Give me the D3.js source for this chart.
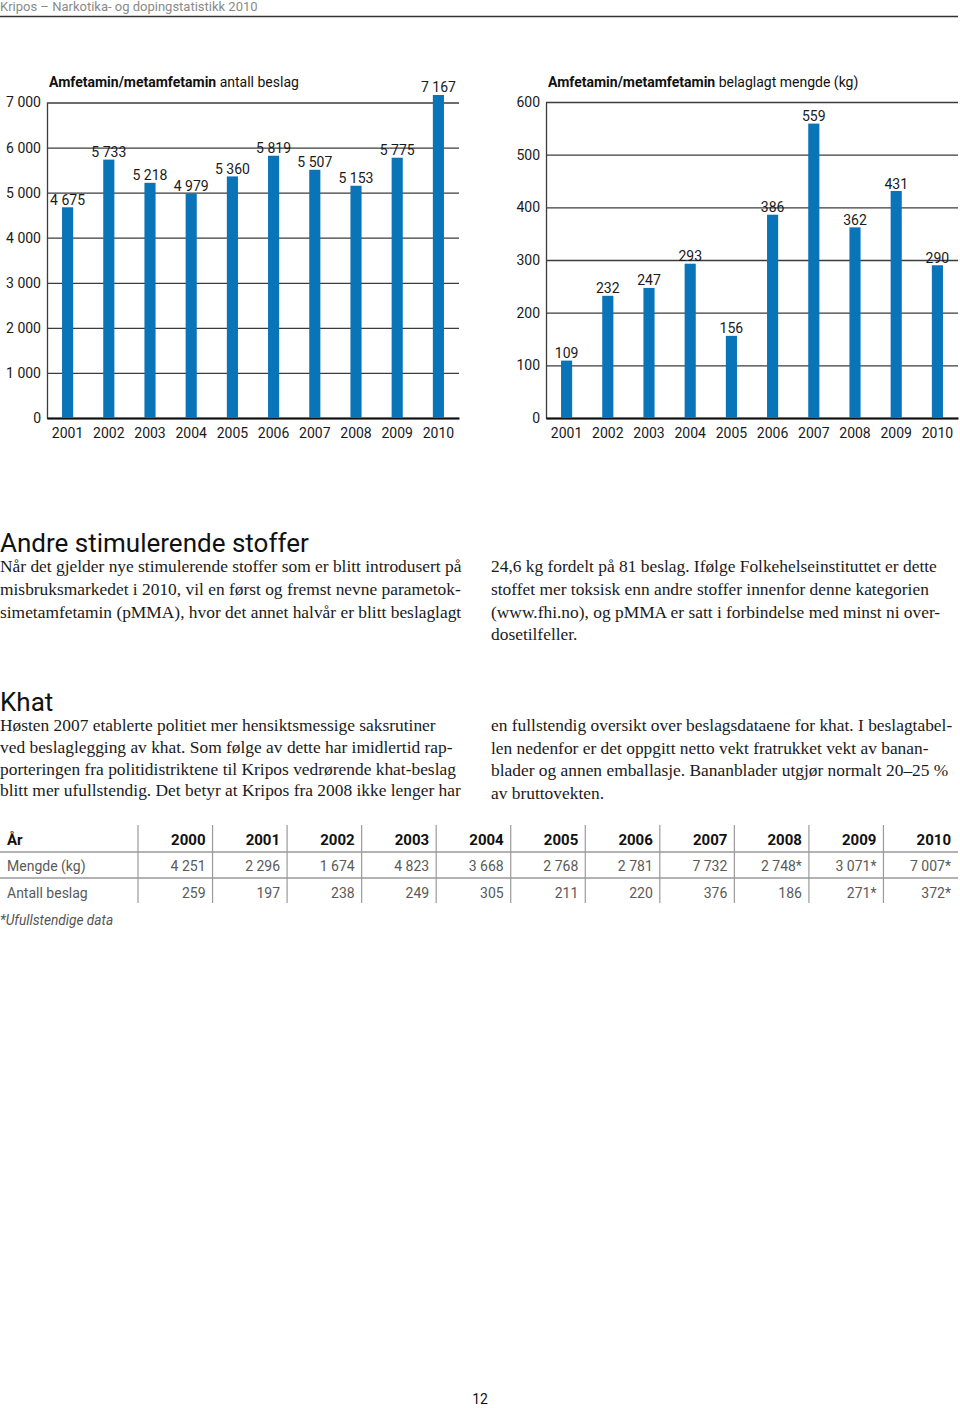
<!DOCTYPE html>
<html lang="no">
<head>
<meta charset="UTF-8">
<title>Kripos – Narkotika- og dopingstatistikk 2010</title>
<script src="https://d3js.org/d3.v7.min.js"></script>
<style>
  body { margin: 0; background: #fff; }
  svg text { font-family: Roboto, "Liberation Sans", sans-serif; }
  .tick text { font-size: 14px; fill: #1a1a1a; }
  .grid .tick line { stroke: #3c3c3c; stroke-width: 1.3px; }
  .grid .domain { stroke: #3c3c3c; stroke-width: 1.3px; }
  .xaxis .domain { stroke: #111; stroke-width: 2.2px; }
  .bar { fill: #0a74b9; }
  .vlabel { font-size: 14px; fill: #1a1a1a; text-anchor: middle; }
  .ctitle { font-size: 14px; fill: #111; }
  .para { font-family: "Liberation Serif", serif; font-size: 17.4px; fill: #1a1a1a; }
  .head { font-size: 26px; fill: #111; }
  .thead { font-size: 15px; font-weight: bold; fill: #111; }
  .tcell { font-size: 14px; fill: #5a5a5a; }
  .tline { stroke: #9a9a9a; }
</style>
</head>
<body>
<svg id="page" width="960" height="1408" viewBox="0 0 960 1408"></svg>
<script>
// chart data
let years = [2001, 2002, 2003, 2004, 2005, 2006, 2007, 2008, 2009, 2010]
let antallBeslag = [4675, 5733, 5218, 4979, 5360, 5819, 5507, 5153, 5775, 7167]
let mengdeKg = [109, 232, 247, 293, 156, 386, 559, 362, 431, 290]
let antallTicks = [0, 1000, 2000, 3000, 4000, 5000, 6000, 7000]
let mengdeTicks = [0, 100, 200, 300, 400, 500, 600]

// khat table
let tableYears = [2000, 2001, 2002, 2003, 2004, 2005, 2006, 2007, 2008, 2009, 2010]
let khatKg = [4251, 2296, 1674, 4823, 3668, 2768, 2781, 7732, 2748, 3071, 7007]
let khatKgIncomplete = [false, false, false, false, false, false, false, false, true, true, true]
let khatAntall = [259, 197, 238, 249, 305, 211, 220, 376, 186, 271, 372]
let khatAntallIncomplete = [false, false, false, false, false, false, false, false, false, true, true]

// text
let stimLeft = [
    "Når det gjelder nye stimulerende stoffer som er blitt introdusert på",
    "misbruksmarkedet i 2010, vil en først og fremst nevne parametok-",
    "simetamfetamin (pMMA), hvor det annet halvår er blitt beslaglagt"]
let stimRight = [
    "24,6 kg fordelt på 81 beslag. Ifølge Folkehelseinstituttet er dette",
    "stoffet mer toksisk enn andre stoffer innenfor denne kategorien",
    "(www.fhi.no), og pMMA er satt i forbindelse med minst ni over-",
    "dosetilfeller."]
let khatLeft = [
    "Høsten 2007 etablerte politiet mer hensiktsmessige saksrutiner",
    "ved beslaglegging av khat. Som følge av dette har imidlertid rap-",
    "porteringen fra politidistriktene til Kripos vedrørende khat-beslag",
    "blitt mer ufullstendig. Det betyr at Kripos fra 2008 ikke lenger har"]
let khatRight = [
    "en fullstendig oversikt over beslagsdataene for khat. I beslagtabel-",
    "len nedenfor er det oppgitt netto vekt fratrukket vekt av banan-",
    "blader og annen emballasje. Bananblader utgjør normalt 20–25 %",
    "av bruttovekten."]

let locale = d3.formatLocale({decimal: ",", thousands: " ", grouping: [3], currency: ["", " kr"]})
let fmt = locale.format(",d")

let svg = d3.select("#page")

// page header
svg.append("text").attr("x", 0).attr("y", 11)
    .style("font-size", "13px").style("fill", "#8a8a8a")
    .text("Kripos – Narkotika- og dopingstatistikk 2010")
svg.append("line").attr("x1", 0).attr("x2", 958).attr("y1", 16.5).attr("y2", 16.5)
    .style("stroke", "#333").style("stroke-width", 1.4)

function barChart(o) {
    let g = svg.append("g")
    let x = d3.scaleBand().domain(o.cats).range([o.x0, o.x1])
        .paddingInner(0.73).paddingOuter(0.365)
    let y = d3.scaleLinear().domain([0, o.max]).range([418, o.top])

    g.append("g").attr("class", "grid")
        .attr("transform", `translate(${o.x0},0)`)
        .call(d3.axisLeft(y).tickValues(o.ticks).tickSize(-(o.x1 - o.x0))
            .tickSizeOuter(0).tickPadding(6).tickFormat(fmt))

    g.append("g").attr("class", "xaxis")
        .attr("transform", "translate(0,418)")
        .call(d3.axisBottom(x).tickSize(0).tickSizeOuter(0).tickPadding(10))

    g.selectAll("rect.bar").data(o.values).enter().append("rect")
        .attr("class", "bar")
        .attr("x", (d, i) => x(o.cats[i]))
        .attr("width", x.bandwidth())
        .attr("y", d => y(d))
        .attr("height", d => y(0) - y(d))

    g.selectAll("text.vlabel").data(o.values).enter().append("text")
        .attr("class", "vlabel")
        .attr("x", (d, i) => x(o.cats[i]) + x.bandwidth() / 2)
        .attr("y", d => y(d) - 2.5)
        .text(d => fmt(d))

    let t = g.append("text").attr("class", "ctitle").attr("x", o.x0 + 2).attr("y", 87)
    t.append("tspan").style("font-weight", "bold").text(o.titleBold)
    t.append("tspan").text(" " + o.title)
}

barChart({cats: years, values: antallBeslag, ticks: antallTicks, max: 7000,
    x0: 47, x1: 459, top: 102.5,
    titleBold: "Amfetamin/metamfetamin", title: "antall beslag"})
barChart({cats: years, values: mengdeKg, ticks: mengdeTicks, max: 600,
    x0: 546, x1: 958, top: 102,
    titleBold: "Amfetamin/metamfetamin", title: "belaglagt mengde (kg)"})

// text sections
function heading(txt, y) {
    svg.append("text").attr("class", "head").attr("x", 0).attr("y", y).text(txt)
}
function para(lines, x, y0, lh) {
    svg.append("g").selectAll("text").data(lines).enter().append("text")
        .attr("class", "para").attr("x", x).attr("y", (d, i) => y0 + i * lh).text(d => d)
}
heading("Andre stimulerende stoffer", 552)
para(stimLeft, 0, 572, 22.8)
para(stimRight, 491, 572, 22.8)
heading("Khat", 711)
para(khatLeft, 0, 731, 21.8)
para(khatRight, 491, 731, 22.6)

// khat table
let cols = d3.scaleBand().domain(tableYears).range([138, 958])
let tg = svg.append("g")
let rowY = [845, 871, 898]
tg.append("text").attr("class", "thead").attr("x", 7).attr("y", rowY[0]).text("År")
tg.selectAll("text.yr").data(tableYears).enter().append("text")
    .attr("class", "thead yr").attr("text-anchor", "end")
    .attr("x", d => cols(d) + cols.bandwidth() - 7).attr("y", rowY[0]).text(d => d)

let rows = [
    {label: "Mengde (kg)", values: khatKg, flags: khatKgIncomplete},
    {label: "Antall beslag", values: khatAntall, flags: khatAntallIncomplete}]
rows.forEach((r, ri) => {
    tg.append("text").attr("class", "tcell").attr("x", 7).attr("y", rowY[ri + 1]).text(r.label)
    tg.selectAll("text.r" + ri).data(r.values).enter().append("text")
        .attr("class", "tcell r" + ri).attr("text-anchor", "end")
        .attr("x", (d, i) => cols(tableYears[i]) + cols.bandwidth() - 7)
        .attr("y", rowY[ri + 1])
        .text((d, i) => fmt(d) + (r.flags[i] ? "*" : ""))
})
;[852, 878].forEach(yy => tg.append("line").attr("class", "tline")
    .attr("x1", 0).attr("x2", 958).attr("y1", yy).attr("y2", yy).style("stroke-width", 1.6))
tg.selectAll("line.vl").data(tableYears).enter().append("line")
    .attr("class", "tline vl")
    .attr("x1", d => cols(d)).attr("x2", d => cols(d))
    .attr("y1", 825).attr("y2", 903).style("stroke-width", 1.2)

svg.append("text").attr("x", 0).attr("y", 925)
    .style("font-size", "13.7px").style("font-style", "italic").style("fill", "#555")
    .text("*Ufullstendige data")

// page number
svg.append("text").attr("x", 480).attr("y", 1404).attr("text-anchor", "middle")
    .style("font-size", "14px").style("fill", "#111").text("12")
</script>
</body>
</html>
